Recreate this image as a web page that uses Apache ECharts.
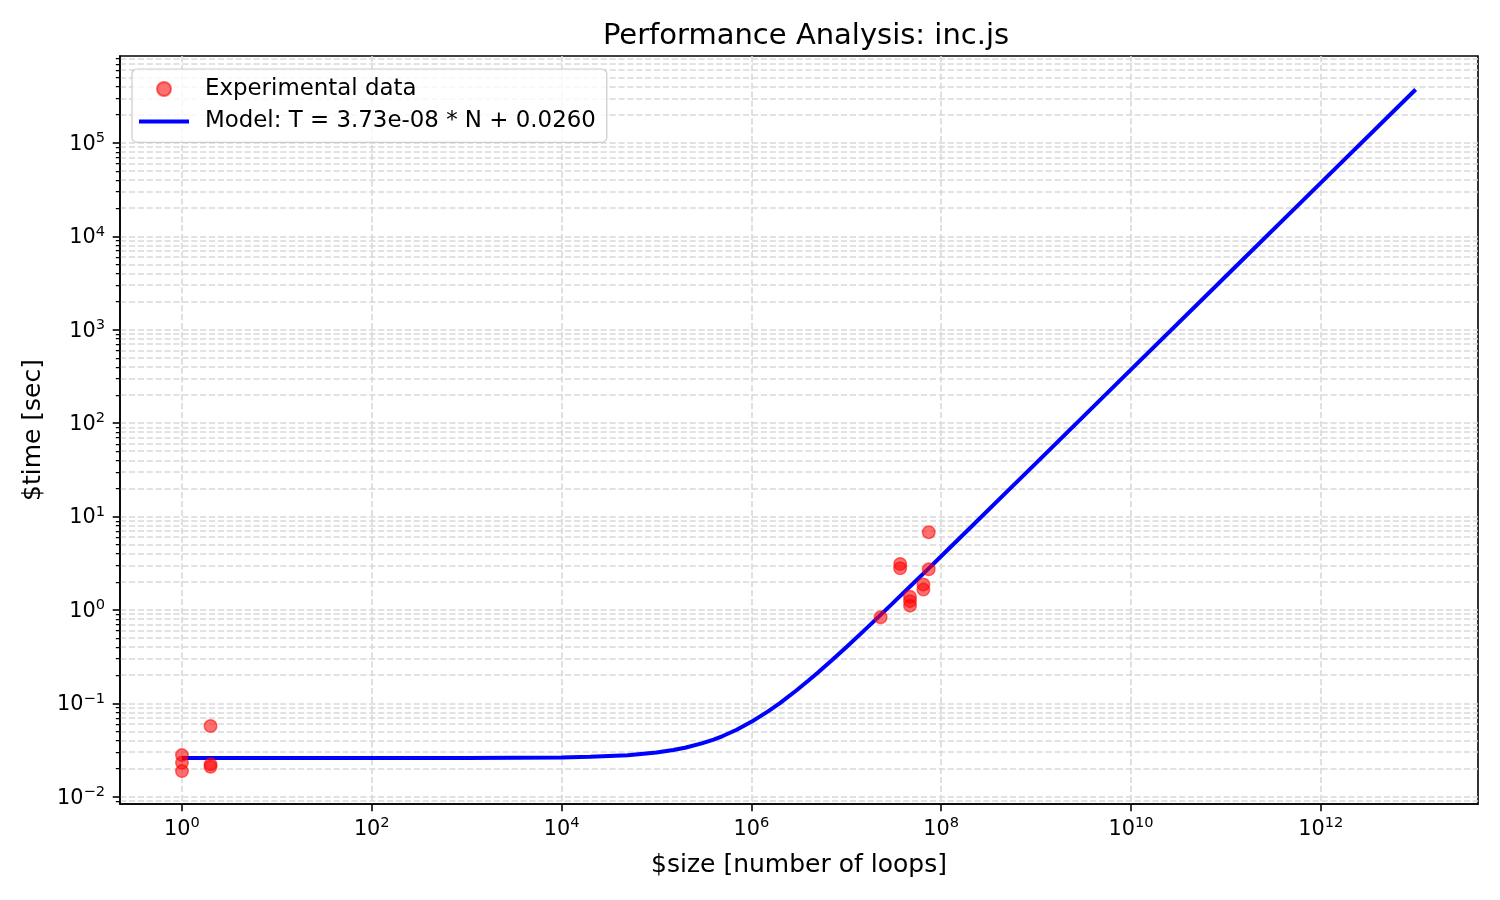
<!DOCTYPE html>
<html>
<head>
<meta charset="utf-8">
<script src="https://cdn.jsdelivr.net/npm/echarts@6/dist/echarts.min.js"></script>
<style>
  html, body { margin: 0; padding: 0; background: #fff; }
  #chart { width: 1500px; height: 900px; }
</style>
</head>
<body>
<div id="chart"></div>
<script>
let sizeN = [1, 1, 1, 2, 2, 2, 2.3e7, 3.7e7, 3.7e7, 4.7e7, 4.7e7, 4.7e7, 6.5e7, 6.5e7, 7.4e7, 7.4e7];
let timeT = [0.0279, 0.0231, 0.0188, 0.0571, 0.0222, 0.0209, 0.834, 3.10, 2.79, 1.38, 1.24, 1.11, 1.87, 1.65, 6.78, 2.72];

// fitted model curve
let modelN = [1, 1e3, 1e4, 2e4, 5e4, 1e5, 1.5e5, 2e5, 3e5, 4e5, 5e5, 7e5, 1e6, 1.5e6, 2e6, 3e6, 4e6, 5e6, 7e6, 1e7, 1.5e7, 2e7, 3e7, 5e7, 7e7, 1e8, 2e8, 5e8, 1e9, 1e10, 1e11, 1e12, 1e13];
let modelT = [0.026, 0.02604, 0.02637, 0.02675, 0.02787, 0.02973, 0.0316, 0.03346, 0.03719, 0.04092, 0.04465, 0.05211, 0.0633, 0.08195, 0.1006, 0.1379, 0.1752, 0.2125, 0.2871, 0.399, 0.5855, 0.772, 1.145, 1.891, 2.637, 3.756, 7.486, 18.68, 37.33, 373.0, 3730, 37300, 373000];

// tick exponents (log10)
let xTickExp = [0, 2, 4, 6, 8, 10, 12];
let yTickExp = [-2, -1, 0, 1, 2, 3, 4, 5];
let yMinorMult = [2, 3, 4, 5, 6, 7, 8, 9];

let legendNames = ['Experimental data', 'Model: T = 3.73e-08 * N + 0.0260'];

// axis extents in log10 space
let xMin = -0.653, xMax = 13.657;
let yMin = -2.078, yMax = 5.93;

let yMinor = [];
for (let e = -3; e <= 5; e++) {
    yMinorMult.forEach(function (k) {
        let v = e + Math.log10(k);
        if (v > yMin && v < yMax) yMinor.push(v);
    });
}

let scatterData = sizeN.map(function (n, i) { return [Math.log10(n), Math.log10(timeT[i])]; });
let modelData = modelN.map(function (n, i) { return [Math.log10(n), Math.log10(modelT[i])]; });

const FONT = 'DejaVu Sans';

function powLabel(v) {
    let e = Math.round(v);
    return '{b|10}{s|' + (e < 0 ? '\u2212' + (-e) : e) + '}';
}
let powRich = {
    b: { fontFamily: FONT, fontSize: 20.8, color: '#000', verticalAlign: 'bottom' },
    s: { fontFamily: FONT, fontSize: 14.6, color: '#000', verticalAlign: 'bottom', padding: [0, 0, 9, 0] }
};

let gridDash = { color: '#d9d9d9', width: 1.6, type: [6.2, 2.7] };

let chart = echarts.init(document.getElementById('chart'), null, { renderer: 'canvas' });

let option = {
    animation: false,
    backgroundColor: '#fff',
    title: {
        text: 'Performance Analysis: inc.js',
        left: 801,
        top: 17,
        textAlign: 'center',
        textStyle: { fontFamily: FONT, fontSize: 29, fontWeight: 'normal', color: '#000' }
    },
    legend: {
        orient: 'vertical',
        left: 132,
        top: 69,
        padding: [7, 11, 8, 7],
        itemWidth: 50,
        itemHeight: 14,
        itemGap: 6.4,
        backgroundColor: 'rgba(255,255,255,0.8)',
        borderColor: '#cccccc',
        borderWidth: 1.2,
        borderRadius: 5,
        textStyle: { fontFamily: FONT, fontSize: 22.9, color: '#000', lineHeight: 26, padding: [0, 0, 0, 11] },
        data: [
            { name: legendNames[0], icon: 'circle' },
            { name: legendNames[1], icon: 'path://M0,0L50,0L50,4L0,4Z' }
        ]
    },
    grid: {
        left: 120, right: 22, top: 56, bottom: 96,
        show: true,
        borderColor: '#000',
        borderWidth: 1.6,
        containLabel: false,
        outerBoundsMode: 'none'
    },
    xAxis: {
        type: 'value',
        min: xMin,
        max: xMax,
        name: '$size [number of loops]',
        nameLocation: 'middle',
        nameGap: 49,
        nameTextStyle: { fontFamily: FONT, fontSize: 25, color: '#000' },
        axisLine: { show: true, onZero: false, lineStyle: { color: '#000', width: 1.6 } },
        axisTick: { show: true, length: 7.3, lineStyle: { color: '#000', width: 1.6 }, customValues: xTickExp },
        axisLabel: { margin: 12, formatter: powLabel, rich: powRich, customValues: xTickExp },
        splitLine: { show: true, lineStyle: gridDash }
    },
    yAxis: [
        {
            type: 'value',
            min: yMin,
            max: yMax,
            name: '$time [sec]',
            nameLocation: 'middle',
            nameGap: 70,
            nameTextStyle: { fontFamily: FONT, fontSize: 25, color: '#000' },
            axisLine: { show: true, onZero: false, lineStyle: { color: '#000', width: 1.6 } },
            axisTick: { show: true, length: 7.3, lineStyle: { color: '#000', width: 1.6 }, customValues: yTickExp },
            axisLabel: { margin: 15, formatter: powLabel, rich: powRich, customValues: yTickExp },
            splitLine: { show: true, lineStyle: gridDash }
        },
        {
            type: 'value',
            min: yMin,
            max: yMax,
            position: 'left',
            axisLine: { show: false, onZero: false },
            axisTick: { show: true, length: 4.2, lineStyle: { color: '#000', width: 1.25 }, customValues: yMinor },
            axisLabel: { show: false, customValues: yMinor },
            splitLine: { show: true, lineStyle: gridDash }
        }
    ],
    series: [
        {
            name: legendNames[0],
            type: 'scatter',
            data: scatterData,
            symbolSize: 12.5,
            itemStyle: { color: 'rgba(255,0,0,0.7)', borderColor: 'rgba(255,0,0,0.7)', borderWidth: 1.5 },
            z: 3
        },
        {
            name: legendNames[1],
            type: 'line',
            data: modelData,
            symbol: 'none',
            showSymbol: false,
            lineStyle: { color: '#0000ff', width: 4 },
            itemStyle: { color: '#0000ff' },
            z: 2
        }
    ]
};

chart.setOption(option);
</script>
</body>
</html>
